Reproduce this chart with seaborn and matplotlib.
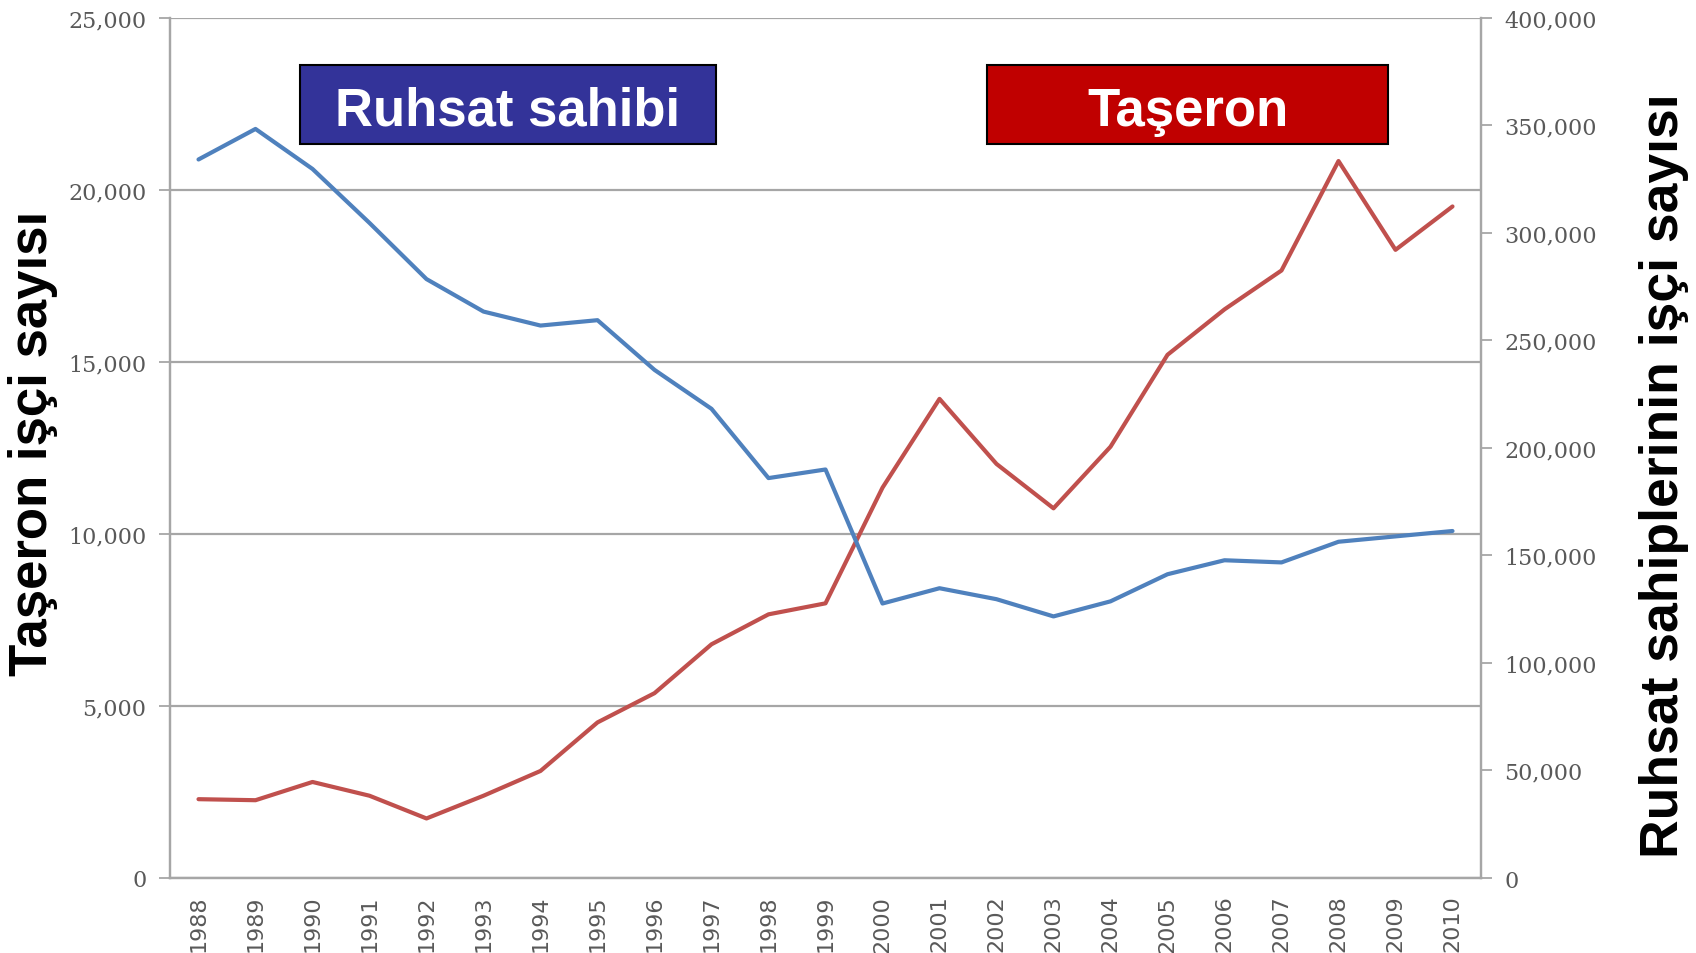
import pandas as pd
import matplotlib.pyplot as plt
import seaborn as sns
from matplotlib.patches import Rectangle
from matplotlib.ticker import FixedLocator, FuncFormatter

# veriler
years = [1988, 1989, 1990, 1991, 1992, 1993, 1994, 1995, 1996, 1997, 1998, 1999,
         2000, 2001, 2002, 2003, 2004, 2005, 2006, 2007, 2008, 2009, 2010]
taseron = [2290, 2260, 2790, 2390, 1730, 2390, 3110, 4520, 5370, 6790, 7660, 7980,
           11340, 13920, 12030, 10740, 12530, 15200, 16520, 17650, 20830, 18250, 19510]
ruhsat = [334000, 348200, 329600, 304500, 278400, 263300, 256800, 259300, 236200, 218100, 185900, 189900,
          127600, 134700, 129600, 121600, 128600, 141200, 147700, 146700, 156300, 158800, 161300]
left_ticks = [0, 5000, 10000, 15000, 20000, 25000]
right_ticks = [0, 50000, 100000, 150000, 200000, 250000, 300000, 350000, 400000]

df = pd.DataFrame({'year': years, 'taseron': taseron, 'ruhsat': ruhsat})

sns.set_style('white')
grid_col = '#a6a6a6'
tick_col = '#595959'

fig = plt.figure(figsize=(16.96, 9.54), dpi=100)
ax = fig.add_axes([170/1696, 1-879/954, (1481-170)/1696, (879-18.5)/954])
ax2 = ax.twinx()

sns.lineplot(data=df, x='year', y='taseron', ax=ax, color='#c0504d', linewidth=3)
sns.lineplot(data=df, x='year', y='ruhsat', ax=ax2, color='#4f81bd', linewidth=3)

ax.set_xlim(years[0]-0.5, years[-1]+0.5)
ax.set_ylim(0, 25000)
ax2.set_ylim(0, 400000)

# x ekseni: çizgiler kategoriler arasında, etiketler ortada
ax.xaxis.set_major_locator(FixedLocator([y - 0.5 for y in years] + [years[-1] + 0.5]))
ax.xaxis.set_major_formatter(FuncFormatter(lambda v, p: ''))
ax.xaxis.set_minor_locator(FixedLocator(years))
ax.xaxis.set_minor_formatter(FuncFormatter(lambda v, p: str(int(round(v)))))
ax.tick_params(axis='x', which='major', length=8, width=1.3, color=grid_col, direction='out')
ax.tick_params(axis='x', which='minor', length=0, pad=12, labelsize=16, labelcolor=tick_col, labelrotation=90)
for lab in ax.get_xticklabels(minor=True):
    lab.set_fontfamily('DejaVu Sans')

fmt = FuncFormatter(lambda v, p: f'{int(v):,}')
ax.set_yticks(left_ticks)
ax.yaxis.set_major_formatter(fmt)
ax.tick_params(axis='y', length=8, width=1.3, color=grid_col, pad=9, labelsize=16, labelcolor=tick_col)
ax2.set_yticks(right_ticks)
ax2.yaxis.set_major_formatter(fmt)
ax2.tick_params(axis='y', length=8, width=1.3, color=grid_col, pad=9, labelsize=16, labelcolor=tick_col)
for lab in ax.get_yticklabels() + ax2.get_yticklabels():
    lab.set_fontfamily('DejaVu Serif')

ax.grid(axis='y', color=grid_col, linewidth=1.6)
ax.grid(axis='x', visible=False)
ax2.grid(False)
ax.set_xlabel('')
ax.set_ylabel('')
ax2.set_ylabel('')

for a in (ax, ax2):
    a.spines['top'].set_visible(False)
    for s in ('left', 'right', 'bottom'):
        a.spines[s].set_color(grid_col)
        a.spines[s].set_linewidth(1.6)

# eksen başlıkları
fig.text(33/1696, 1-443/954, 'Taşeron işçi sayısı', rotation=90, ha='center', va='center',
         fontsize=38, fontweight='bold', family='Liberation Sans', color='black')
fig.text(1664/1696, 1-476/954, 'Ruhsat sahiplerinin işçi sayısı', rotation=90, ha='center', va='center',
         fontsize=38.5, fontweight='bold', family='Liberation Sans', color='black')

# kutular
for x0, x1, face, txt in [(300, 716, '#333399', 'Ruhsat sahibi'), (987, 1388, '#c00000', 'Taşeron')]:
    fig.add_artist(Rectangle((x0/1696, 1-145/954), (x1-x0)/1696, 79/954, transform=fig.transFigure,
                             facecolor=face, edgecolor='black', linewidth=1.5))
    fig.text((x0+x1)/2/1696, 1-112/954, txt, ha='center', va='center', color='white',
             fontsize=38, fontweight='bold', family='Liberation Sans')

fig.savefig('out.png', dpi=100)
